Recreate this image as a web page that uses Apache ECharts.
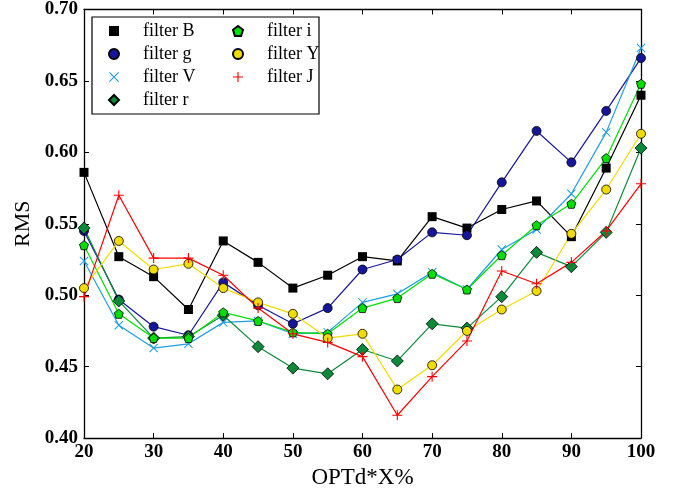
<!DOCTYPE html>
<html>
<head>
<meta charset="utf-8">
<script src="https://cdn.jsdelivr.net/npm/echarts@6/dist/echarts.min.js"></script>
<style>html,body{margin:0;padding:0;background:#fff}#c{width:689px;height:494px}</style>
</head>
<body>
<div id="c"></div>
<script>
const xVals = [20,25,30,35,40,45,50,55,60,65,70,75,80,85,90,95,100];
const filterB = [0.586,0.527,0.513,0.490,0.538,0.523,0.505,0.514,0.527,0.524,0.555,0.547,0.560,0.566,0.541,0.589,0.640];
const filterG = [0.545,0.497,0.478,0.472,0.509,0.493,0.480,0.491,0.518,0.525,0.544,0.542,0.579,0.615,0.593,0.629,0.666];
const filterV = [0.524,0.479,0.463,0.466,0.481,0.482,0.473,0.474,0.495,0.501,0.516,0.504,0.532,0.546,0.571,0.614,0.673];
const filterR = [0.547,0.496,0.470,0.471,0.486,0.464,0.449,0.445,0.462,0.454,0.480,0.477,0.499,0.530,0.520,0.544,0.603];
const filterI = [0.535,0.487,0.470,0.470,0.488,0.482,0.474,0.473,0.491,0.498,0.515,0.504,0.528,0.549,0.564,0.596,0.648];
const filterY = [0.505,0.538,0.518,0.522,0.505,0.495,0.487,0.470,0.473,0.434,0.451,0.475,0.490,0.503,0.543,0.574,0.613];
const filterJ = [0.499,0.570,0.526,0.526,0.514,0.491,0.473,0.467,0.457,0.416,0.443,0.468,0.517,0.508,0.523,0.545,0.578];
const seriesNames = ['filter B','filter g','filter V','filter r','filter i','filter Y','filter J'];

const SQUARE = 'path://M0,0H10V10H0Z';
const DIAMOND = 'path://M5,0L10,5L5,10L0,5Z';
const PENT = 'path://M5,0L10,3.8L8.1,10L1.9,10L0,3.8Z';
const XMARK = 'path://M0,0.8L0.8,0L10,9.2L9.2,10Z M9.2,0L10,0.8L0.8,10L0,9.2Z';
const PLUS = 'path://M0,4.45H10V5.55H0Z M4.45,0H5.55V10H4.45Z';

const styles = [
  {data: filterB, color:'#000000', symbol:SQUARE, size:9, border:'#000', bw:0},
  {data: filterG, color:'#16169a', symbol:'circle', size:9, border:'#000', bw:0.8},
  {data: filterV, color:'#1f9de6', symbol:XMARK, size:9, border:'#1f9de6', bw:0},
  {data: filterR, color:'#0b8a3a', symbol:DIAMOND, size:12, border:'#000', bw:0.8},
  {data: filterI, color:'#00e000', symbol:PENT, size:9, border:'#000', bw:0.8},
  {data: filterY, color:'#f2dc00', symbol:'circle', size:9, border:'#000', bw:0.8},
  {data: filterJ, color:'#ff0000', symbol:PLUS, size:10, border:'#ff0000', bw:0}
];

const series = styles.map((s, k) => ({
  name: seriesNames[k],
  type: 'line',
  xAxisIndex: 0, yAxisIndex: 0,
  data: xVals.map((x, j) => [x, s.data[j]]),
  symbol: s.symbol,
  symbolSize: s.size,
  symbolKeepAspect: true,
  showAllSymbol: true,
  lineStyle: {color: s.color, width: 1.2},
  itemStyle: {color: s.color, borderColor: s.border, borderWidth: s.bw, opacity: 1},
  emphasis: {disabled: true},
  animation: false
}));

const legendText = {fontFamily: 'Liberation Serif', fontSize: 18, color: '#000', lineHeight: 17};
function legendItems(idx) {
  return idx.map(k => ({name: seriesNames[k], icon: styles[k].symbol}));
}

const axisFont = {fontFamily: 'Liberation Serif', fontWeight: 'bold', fontSize: 19, color: '#000'};
const lineBlack = {show: true, lineStyle: {color: '#000', width: 1.3}};
const tickIn = {show: true, inside: true, length: 5, lineStyle: {color: '#000', width: 1}};

const chart = echarts.init(document.getElementById('c'), null, {renderer: 'canvas'});
chart.setOption({
  animation: false,
  backgroundColor: '#fff',
  grid: {left: 84, right: 48, top: 8.5, bottom: 55, containLabel: false},
  xAxis: [
    {type: 'value', min: 20, max: 100, interval: 10, position: 'bottom',
     axisLine: lineBlack, axisTick: tickIn, splitLine: {show: false},
     axisLabel: Object.assign({margin: 4}, axisFont),
     name: 'OPTd*X%', nameLocation: 'middle', nameGap: 27,
     nameTextStyle: {fontFamily: 'Liberation Serif', fontSize: 23, color: '#000'}},
    {type: 'value', min: 20, max: 100, interval: 10, position: 'top',
     axisLine: lineBlack, axisTick: tickIn, splitLine: {show: false},
     axisLabel: {show: false}}
  ],
  yAxis: [
    {type: 'value', min: 0.40, max: 0.70, interval: 0.05, position: 'left',
     axisLine: lineBlack, axisTick: tickIn, splitLine: {show: false},
     axisLabel: Object.assign({margin: 6, formatter: v => v.toFixed(2)}, axisFont),
     name: 'RMS', nameLocation: 'middle', nameGap: 49, nameRotate: 90,
     nameTextStyle: {fontFamily: 'Liberation Serif', fontSize: 22, color: '#000'}},
    {type: 'value', min: 0.40, max: 0.70, interval: 0.05, position: 'right',
     axisLine: lineBlack, axisTick: tickIn, splitLine: {show: false},
     axisLabel: {show: false}}
  ],
  graphic: [
    {type: 'rect', shape: {x: 92, y: 17, width: 227, height: 97},
     style: {fill: '#fff', stroke: '#000', lineWidth: 1.2}, z: 90, silent: true}
  ],
  legend: [
    {orient: 'vertical', left: 108, top: 22, padding: 0, itemWidth: 48, itemHeight: 10, itemGap: 5,
     selectedMode: false, textStyle: legendText, data: legendItems([0,1,2,3]), z: 100},
    {orient: 'vertical', left: 232, top: 22, padding: 0, itemWidth: 48, itemHeight: 10, itemGap: 5,
     selectedMode: false, textStyle: legendText, data: legendItems([4,5,6]), z: 100}
  ],
  series: series
});
</script>
</body>
</html>
